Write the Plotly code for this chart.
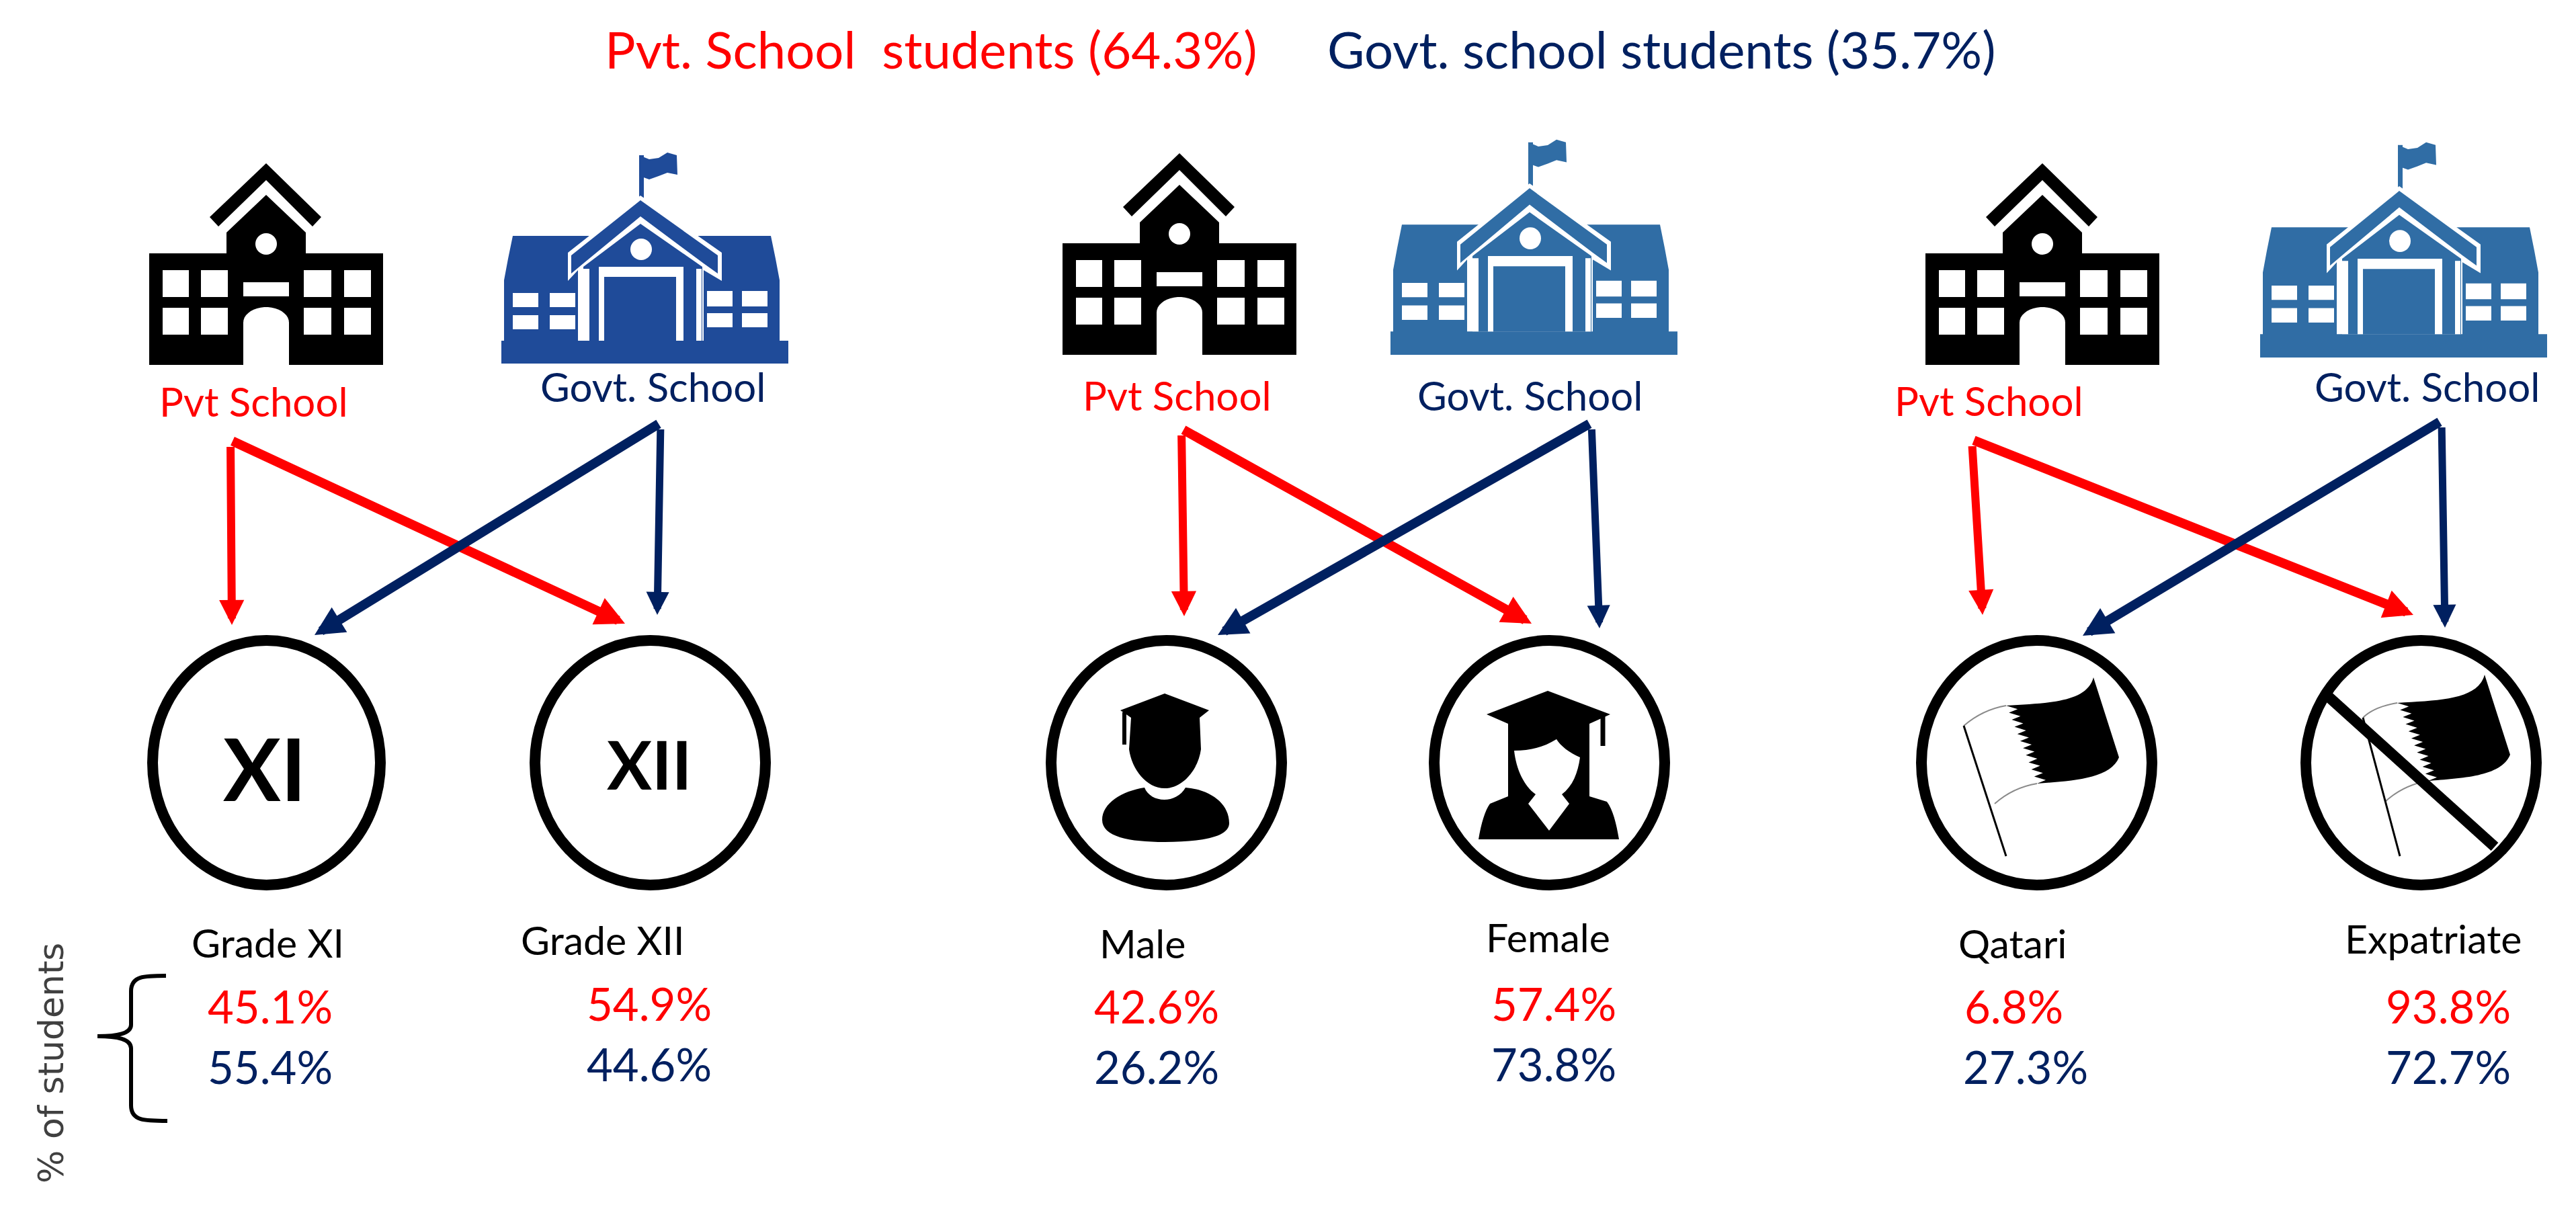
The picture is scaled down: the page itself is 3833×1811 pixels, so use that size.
"""
plot.py: school type by grade, gender and nationality (icon diagram)
"""
import numpy as np
import plotly.graph_objects as go

# chart values
title_pvt = "Pvt. School\u00a0\u00a0students (64.3%)"
title_govt = "Govt. school students (35.7%)"
categories = ["Grade XI", "Grade XII", "Male", "Female", "Qatari", "Expatriate"]
pvt_pct = ["45.1", "54.9", "42.6", "57.4", "6.8", "93.8"]
govt_pct = ["55.4", "44.6", "26.2", "73.8", "27.3", "72.7"]
axis_note = "% of students"

RED = "#ff0000"
NAVY = "#002060"
FONT = "Lato"

fig = go.Figure()


def path(d, fill="black", line=None, width=0):
    fig.add_shape(type="path", path=d, fillcolor=fill, layer="above",
                  line=dict(color=line or fill, width=width))


def poly(pts, fill="black", dx=0, dy=0, sy=1.0, y0=0):
    d = "M" + " L".join(f"{x + dx:.1f},{y0 + (y - y0) * sy + dy:.1f}" for x, y in pts) + " Z"
    path(d, fill)


def rect(x0, y0, x1, y1, fill, dx=0, dy=0, sy=1.0, ybase=0):
    poly([(x0, y0), (x1, y0), (x1, y1), (x0, y1)], fill, dx, dy, sy, ybase)


def oval(x0, y0, x1, y1, fill="white", line=None, width=0):
    fig.add_shape(type="circle", x0=x0, y0=y0, x1=x1, y1=y1, fillcolor=fill, layer="above",
                  line=dict(color=line or fill, width=width))


def text(x, y, s, color="black", size=58, angle=0, family=FONT):
    fig.add_annotation(x=x, y=y, text=s, showarrow=False, textangle=angle,
                       xanchor="center", yanchor="middle",
                       font=dict(family=family, size=size, color=color))


def arrow(start, tip, color, width):
    fig.add_annotation(x=tip[0], y=tip[1], ax=start[0], ay=start[1], xref="x", yref="y",
                       axref="x", ayref="y", showarrow=True, arrowhead=2, arrowsize=0.62,
                       arrowwidth=width, arrowcolor=color, standoff=0, startstandoff=0)


def pvt_school(dx, dy):
    # chevron over the tower
    poly([(396, 243), (478, 323), (465, 337), (396, 268), (325, 337), (312, 323)], "black", dx, dy)
    poly([(396, 290), (455, 346), (455, 377), (570, 377), (570, 543), (222, 543), (222, 377),
          (337, 377), (337, 346)], "black", dx, dy)
    oval(380 + dx, 347 + dy, 412 + dx, 379 + dy)
    for x0, x1 in [(242, 281), (299, 339), (452, 493), (512, 552)]:
        for y0, y1 in [(402, 442), (458, 498)]:
            rect(x0, y0, x1, y1, "white", dx, dy)
    rect(362, 420, 430, 441, "white", dx, dy)
    t = np.linspace(np.pi, 0, 20)
    arch = [(396 + 34 * np.cos(a), 480 - 23 * np.sin(a)) for a in t]
    poly(arch + [(430, 543), (362, 543)], "white", dx, dy)


def govt_school(dx, dy, sy, color):
    base = 541
    k = dict(dx=dx, dy=dy, sy=sy, y0=base)
    r = dict(dx=dx, dy=dy, sy=sy, ybase=base)
    # pole and flag
    rect(951, 231, 958, 300, color, **r)
    poly([(951, 231), (966, 237), (980, 235), (993, 227), (1007, 231), (1008, 260), (993, 257),
          (980, 262), (966, 267), (952, 262)], color, **k)
    # wings and plinth
    poly([(763, 351), (1147, 351), (1154, 385), (1160, 417), (1160, 507), (1173, 507), (1173, 541),
          (746, 541), (746, 507), (750, 507), (750, 417), (756, 385)], color, **k)
    for x0, x1 in [(763, 801), (818, 856)]:
        for y0, y1 in [(436, 457), (469, 490)]:
            rect(x0, y0, x1, y1, "white", **r)
    for x0, x1 in [(1052, 1090), (1104, 1142)]:
        for y0, y1 in [(433, 456), (466, 487)]:
            rect(x0, y0, x1, y1, "white", **r)
    # gable: white edge, roof, white chevron, front
    poly([(953, 291), (1074, 376), (1074, 418), (1047, 402), (1047, 507), (860, 507), (860, 402),
          (845, 418), (845, 376)], "white", **k)
    poly([(953, 298), (1068, 380), (1068, 407), (1047, 392), (953, 322), (868, 392), (850, 407),
          (850, 380)], color, **k)
    poly([(953, 333), (1045, 397), (1045, 507), (868, 507), (868, 397)], color, **k)
    oval(938 + dx, base + (355 - base) * sy + dy, 970 + dx, base + (387 - base) * sy + dy)
    for x0, x1 in [(868, 877), (891, 899), (1006, 1017), (1036, 1044)]:
        rect(x0, 400, x1, 507, "white", **r)
    rect(891, 397, 1017, 412, "white", **r)
    rect(899, 412, 1006, 507, color, **r)


def flag(dx, dy, pole_start, pole_end):
    x = lambda v: v + dx
    y = lambda v: v + dy
    # zigzag hoist edge of the flag
    n = 11
    zz = []
    for i in range(n + 1):
        f = i / n
        xb, yb = 3031 - (3031 - 2985) * f, 1166 - (1166 - 1050) * f
        zz.append((xb, yb))
        if i < n:
            zz.append((xb + 13, yb - 116 / n / 2))
    d = (f"M{x(2985)},{y(1050)} C{x(3050)},{y(1046)} {x(3105)},{y(1045)} {x(3115)},{y(1008)} "
         f"L{x(3153)},{y(1127)} C{x(3140)},{y(1160)} {x(3080)},{y(1162)} {x(3031)},{y(1166)} ")
    d += " ".join(f"L{x(a):.1f},{y(b):.1f}" for a, b in zz) + " Z"
    path(d)
    grey = "#8a8a8a"
    fig.add_shape(type="path", path=f"M{pole_start[0]},{pole_start[1]} Q{x(2950)},{y(1056)} {x(2985)},{y(1050)}",
                  line=dict(color=grey, width=2), layer="above")
    fig.add_shape(type="path", path=f"M{x(2968)},{y(1196)} Q{x(2995)},{y(1172)} {x(3031)},{y(1166)}",
                  line=dict(color=grey, width=2), layer="above")
    fig.add_shape(type="line", x0=pole_start[0], y0=pole_start[1], x1=pole_end[0], y1=pole_end[1],
                  line=dict(color="black", width=3), layer="above")


# top legend line
text(1385, 72, title_pvt, RED, 76)
text(2472, 72, title_govt, NAVY, 76)

# panel offsets of the school icons
for dx, dy in [(0, 0), (1359, -15), (2643, 0)]:
    pvt_school(dx, dy)
govt_school(0, 0, 1.0, "#1f4b99")
govt_school(1323, -13, 1.02, "#306da5")
govt_school(2617, -9, 1.02, "#306da5")

for x, y in [(377, 597), (1751, 588), (2959, 596)]:
    text(x, y, "Pvt School", RED, 60)
for x, y in [(971, 575), (2276, 588), (3611, 575)]:
    text(x, y, "Govt. School", NAVY, 60)

# arrows: red and navy origin, then tips on the two circles of each panel
arrow((343, 655), (345, 930), RED, 12)
arrow((343, 655), (930, 928), RED, 14)
arrow((983, 629), (978, 915), NAVY, 11)
arrow((983, 629), (468, 945), NAVY, 14)
arrow((1758, 638), (1762, 917), RED, 12)
arrow((1758, 638), (2279, 928), RED, 14)
arrow((2368, 629), (2380, 935), NAVY, 11)
arrow((2368, 629), (1812, 945), NAVY, 14)
arrow((2934, 654), (2950, 915), RED, 12)
arrow((2934, 654), (3591, 915), RED, 14)
arrow((3633, 626), (3638, 934), NAVY, 11)
arrow((3633, 626), (3099, 946), NAVY, 14)

# circles
for x0, x1 in [(227, 566), (796, 1139), (1564, 1907), (2134, 2477), (2859, 3202), (3431, 3774)]:
    oval(x0, 953, x1, 1317, "rgba(0,0,0,0)", "black", 16)

text(394, 1142, "<b>XI</b>", "black", 128)
text(966, 1136, "<b>XII</b>", "black", 100)

# male graduate
path("M1733,1032 L1799,1057 L1785,1068 L1787,1115 C1783,1145 1760,1173 1733,1173 "
     "C1706,1173 1684,1145 1680,1115 L1683,1068 L1667,1057 Z")
path("M1703,1172 C1712,1195 1750,1197 1764,1172 C1800,1175 1829,1195 1829,1225 "
     "C1829,1245 1790,1253 1733,1253 C1680,1253 1640,1245 1640,1220 C1640,1195 1670,1177 1703,1172 Z")
fig.add_shape(type="line", x0=1673, y0=1060, x1=1673, y1=1108, line=dict(color="black", width=6), layer="above")

# female graduate
path("M2303,1028 L2396,1063 L2365,1077 L2365,1185 L2391,1193 C2400,1205 2405,1225 2409,1249 "
     "L2200,1249 C2204,1225 2210,1205 2217,1196 L2244,1185 L2244,1077 L2212,1063 Z")
path("M2253,1117 C2275,1117 2295,1113 2316,1100 C2322,1110 2335,1120 2351,1127 C2348,1150 2340,1170 2324,1182 "
     "L2335,1196 L2305,1236 L2274,1196 L2285,1182 C2268,1170 2256,1145 2253,1117 Z", "white")
fig.add_shape(type="line", x0=2385, y0=1066, x1=2385, y1=1110, line=dict(color="black", width=7), layer="above")

# Qatari flag, and the same flag struck out
flag(0, 0, (2922, 1080), (2985, 1274))
flag(582, -4, (3516, 1068), (3571, 1274))
fig.add_shape(type="line", x0=3465, y0=1037, x1=3712, y1=1260, line=dict(color="black", width=16), layer="above")

# bracket and its note
path("M247,1452 C215,1452 195,1452 195,1475 L195,1525 C195,1538 175,1542 145,1542 "
     "C175,1542 195,1546 195,1560 L195,1645 C195,1668 215,1668 249,1668",
     "rgba(0,0,0,0)", "black", 6)
text(76, 1582, axis_note, "#404040", 52, -90, "DejaVu Sans")

# category names and percentages, one column per category
name_pos = [(398, 1402), (897, 1398), (1700, 1403), (2303, 1394), (2995, 1403), (3620, 1396)]
pvt_x = [402, 966, 1721, 2312, 2996, 3643]
govt_x = [402, 966, 1721, 2312, 3014, 3643]
pvt_y = [1497, 1493, 1497, 1493, 1497, 1497]
govt_y = [1587, 1583, 1587, 1583, 1587, 1587]

for i, name in enumerate(categories):
    text(name_pos[i][0], name_pos[i][1], name, "black", 59)
    text(pvt_x[i], pvt_y[i], f"{pvt_pct[i]}%", RED, 67)
    text(govt_x[i], govt_y[i], f"{govt_pct[i]}%", NAVY, 67)

# page body has an 8px margin, so the plot is that much smaller than the window
fig.update_layout(width=3825, height=1803, margin=dict(l=0, r=0, t=0, b=0),
                  paper_bgcolor="white", plot_bgcolor="white", showlegend=False,
                  hovermode=False,
                  xaxis=dict(range=[8, 3833], visible=False, fixedrange=True),
                  yaxis=dict(range=[1811, 8], visible=False, fixedrange=True))
fig.write_html("out.html")
